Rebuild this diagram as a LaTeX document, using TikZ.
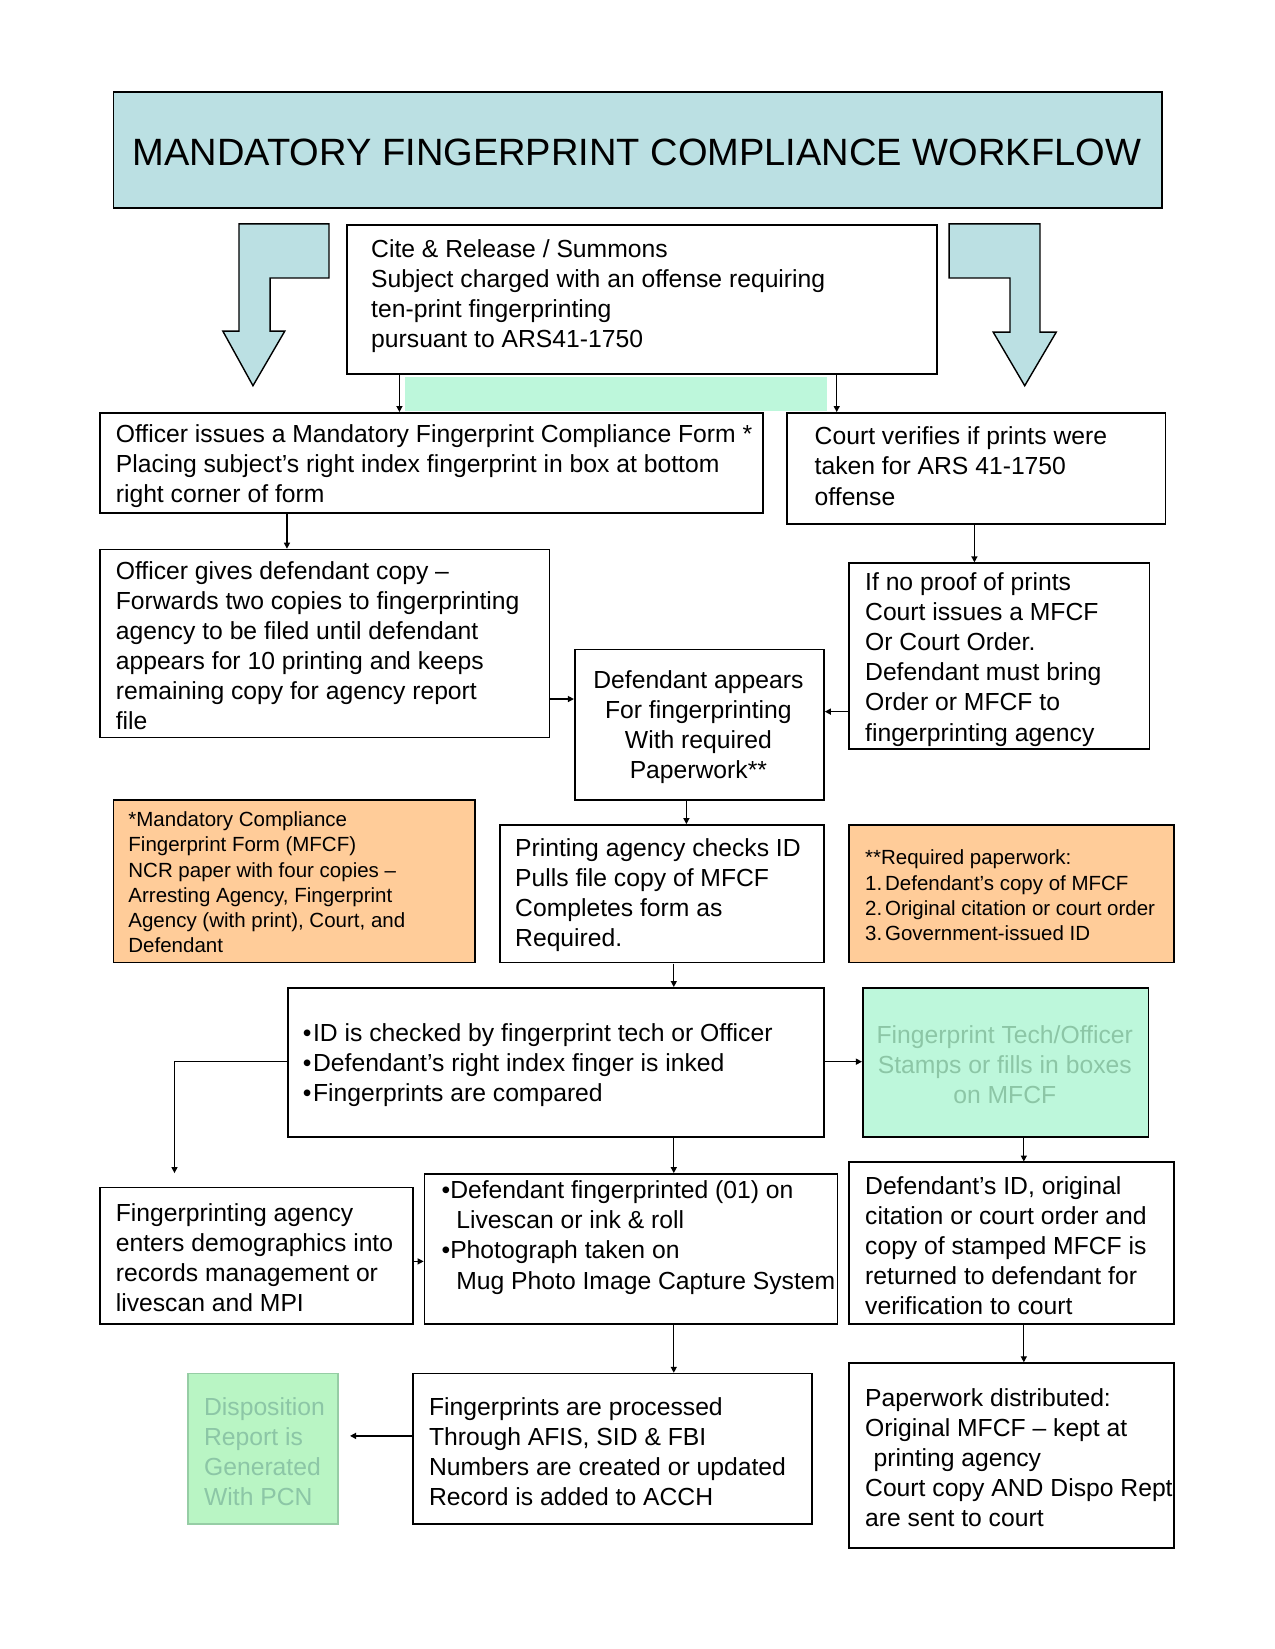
\documentclass[tikz,border=0pt]{standalone}
\usepackage{fontspec}
\setmainfont{Liberation Sans}
\usetikzlibrary{arrows.meta}
\definecolor{titleblue}{RGB}{187,224,227}
\definecolor{mint}{RGB}{189,247,219}
\definecolor{dispgreen}{RGB}{185,245,196}
\definecolor{dispborder}{RGB}{150,205,165}
\definecolor{orangefill}{RGB}{255,204,153}
\definecolor{greytext}{RGB}{140,198,166}
\begin{document}
\begin{tikzpicture}[x=1pt,y=-1pt,scale=1.051,every node/.append style={transform shape},
  box/.style={draw=black, line width=1.7pt, inner sep=0pt, anchor=north west},
  txt/.style={inner sep=0pt, anchor=west, align=left, font=\fontsize{23.5}{28.6}\selectfont},
  smalltxt/.style={inner sep=0pt, anchor=west, align=left, font=\fontsize{19.5}{24}\selectfont},
  conn/.style={line width=1.3pt, -{Triangle[length=6pt,width=6pt]}},
  bentarrow/.style={draw=black, line width=1.4pt, fill=titleblue, line join=miter}]
\useasboundingbox (0,0) rectangle (1213,1569);

% title
\node[box, fill=titleblue, minimum width=998pt, minimum height=110pt] (title) at (107,87) {};
\node[inner sep=0pt, font=\fontsize{36.2}{40}\selectfont] (titletext) at (606,145)
  {MANDATORY FINGERPRINT COMPLIANCE WORKFLOW};

% bent arrows
\draw[bentarrow] (227.4,213) -- (313,213) -- (313,264.5) -- (257,264.5) -- (257,315)
  -- (271,315) -- (240.7,367) -- (212,315) -- (227.4,315) -- cycle;
\draw[bentarrow] (903,213) -- (989.5,213) -- (989.5,316) -- (1005,316) -- (975,367)
  -- (945,316) -- (961,316) -- (961,264.5) -- (903,264.5) -- cycle;

% green strip
\fill[mint] (385,358.5) rectangle (787,391);

% boxes
\node[box, minimum width=562pt, minimum height=142pt] (cite) at (329,213) {};
\node[box, minimum width=631pt, minimum height=95pt] (officer) at (94,392) {};
\node[box, minimum width=360pt, minimum height=106pt] (court) at (748,392) {};
\node[box, minimum width=428pt, minimum height=179pt] (gives) at (94,522) {};
\node[box, minimum width=286pt, minimum height=177pt] (noproof) at (807,535) {};
\node[box, minimum width=237pt, minimum height=143pt] (appears) at (546,617) {};
\node[box, fill=orangefill, minimum width=344pt, minimum height=155pt] (orange1) at (107,760) {};
\node[box, minimum width=308pt, minimum height=131pt] (printing) at (475,784) {};
\node[box, fill=orangefill, minimum width=309pt, minimum height=131pt] (orange2) at (807,784) {};
\node[box, minimum width=510pt, minimum height=142pt] (idbox) at (273,939) {};
\node[box, fill=mint, minimum width=272pt, minimum height=142pt] (stamp) at (820,939) {};
\node[box, minimum width=298pt, minimum height=130pt] (agency) at (94,1129) {};
\node[box, minimum width=393pt, minimum height=143pt] (fp) at (403,1116) {};
\node[box, minimum width=309pt, minimum height=154pt] (defid) at (807,1105) {};
\node[box, minimum width=380pt, minimum height=143pt] (processed) at (392,1306) {};
\node[box, draw=dispborder, fill=dispgreen, minimum width=143pt, minimum height=143pt] (disp) at (178,1306) {};
\node[box, minimum width=309pt, minimum height=176pt] (paper) at (807,1296) {};

% texts
\node[txt] (citetxt) at (353,282) {Cite \& Release / Summons\\Subject charged with an offense requiring\\ten-print fingerprinting\\pursuant to ARS41-1750};
\node[txt] (officertxt) at (110,443.5) {Officer issues a Mandatory Fingerprint Compliance Form *\\Placing subject’s right index fingerprint in box at bottom\\right corner of form};
\node[txt] (courttxt) at (775,443.5) {Court verifies if prints were\\taken for ARS 41-1750\\offense};
\node[txt] (givestxt) at (110,614.5) {Officer gives defendant copy –\\Forwards two copies to fingerprinting\\agency to be filed until defendant\\appears for 10 printing and keeps\\remaining copy for agency report\\file};
\node[txt] (noprooftxt) at (823,627.5) {If no proof of prints\\Court issues a MFCF\\Or Court Order.\\Defendant must bring\\Order or MFCF to\\fingerprinting agency};
\node[txt, anchor=center, align=center] (appearstxt) at (664.5,692) {Defendant appears\\For fingerprinting\\With required\\Paperwork**};
\node[smalltxt] (orange1txt) at (122,839.5) {*Mandatory Compliance\\Fingerprint Form (MFCF)\\NCR paper with four copies –\\Arresting Agency, Fingerprint\\Agency (with print), Court, and\\Defendant};
\node[txt] (printingtxt) at (490,852) {Printing agency checks ID\\Pulls file copy of MFCF\\Completes form as\\Required.};
\node[smalltxt] (orange2txt) at (823,852) {**Required paperwork:\\\makebox[19pt][l]{1.}Defendant’s copy of MFCF\\\makebox[19pt][l]{2.}Original citation or court order\\\makebox[19pt][l]{3.}Government-issued ID};
\node[txt] (idtxt) at (288,1013.5) {•\hspace{1.5pt}ID is checked by fingerprint tech or Officer\\•\hspace{1.5pt}Defendant’s right index finger is inked\\•\hspace{1.5pt}Fingerprints are compared};
\node[txt, anchor=center, align=center, text=greytext] (stamptxt) at (956,1013) {Fingerprint Tech/Officer\\Stamps or fills in boxes\\on MFCF};
\node[txt] (agencytxt) at (110,1196.5) {Fingerprinting agency\\enters demographics into\\records management or\\livescan and MPI};
\node[txt] (fptxt) at (420,1177.5) {•Defendant fingerprinted (01) on\\\hspace*{14pt}Livescan or ink \& roll\\•Photograph taken on\\\hspace*{14pt}Mug Photo Image Capture System};
\node[txt] (defidtxt) at (823,1185) {Defendant’s ID, original\\citation or court order and\\copy of stamped MFCF is\\returned to defendant for\\verification to court};
\node[txt] (processedtxt) at (408,1381) {Fingerprints are processed\\Through AFIS, SID \& FBI\\Numbers are created or updated\\Record is added to ACCH};
\node[txt, text=greytext] (disptxt) at (194,1381.5) {Disposition\\Report is\\Generated\\With PCN};
\node[txt] (papertxt) at (823,1387) {Paperwork distributed:\\Original MFCF – kept at\\\hspace*{8pt}printing agency\\Court copy AND Dispo Rept\\are sent to court};

% helper coordinates
\coordinate (x380) at (380,0);
\coordinate (x796) at (796,0);
\coordinate (x273) at (273,0);
\coordinate (x927) at (927,0);
\coordinate (y665) at (0,665);
\coordinate (y677) at (0,677);
\coordinate (x653) at (653,0);
\coordinate (x641) at (641,0);
\coordinate (y1010) at (0,1010);
\coordinate (y1200) at (0,1200);
\coordinate (x974) at (974,0);
\coordinate (agencyin) at (166,1116);
\coordinate (dispin) at (333,1366);

% connectors
\draw[conn] (cite.south -| x380) -- (officer.north -| x380);
\draw[conn] (cite.south -| x796) -- (court.north -| x796);
\draw[conn] (officer.south -| x273) -- (gives.north -| x273);
\draw[conn] (court.south -| x927) -- (noproof.north -| x927);
\draw[conn] (gives.east |- y665) -- (appears.west |- y665);
\draw[conn] (noproof.west |- y677) -- (appears.east |- y677);
\draw[conn] (appears.south -| x653) -- (printing.north -| x653);
\draw[conn] (printing.south -| x641) -- (idbox.north -| x641);
\draw[conn] (idbox.east |- y1010) -- (stamp.west |- y1010);
\draw[conn] (idbox.west |- y1010) -| (agencyin);
\draw[conn] (idbox.south -| x641) -- (fp.north -| x641);
\draw[conn] (agency.east |- y1200) -- (fp.west |- y1200);
\draw[conn] (stamp.south -| x974) -- (defid.north -| x974);
\draw[conn] (fp.south -| x641) -- (processed.north -| x641);
\draw[conn] (processed.west |- dispin) -- (dispin);
\draw[conn] (defid.south -| x974) -- (paper.north -| x974);
\end{tikzpicture}
\end{document}
